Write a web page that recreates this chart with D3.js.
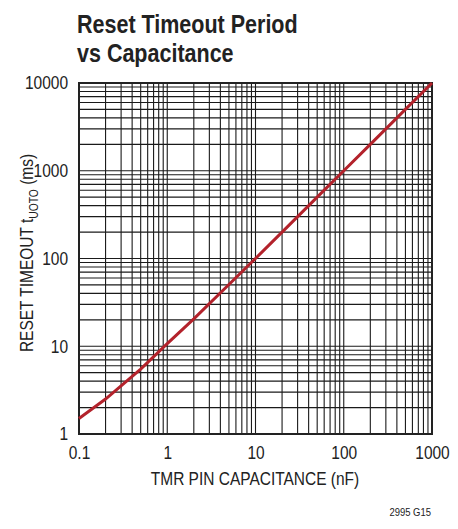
<!DOCTYPE html>
<html>
<head>
<meta charset="utf-8">
<script src="https://cdn.jsdelivr.net/npm/d3@7"></script>
<style>
  body { margin: 0; background: #fff; }
  svg { display: block; }
</style>
</head>
<body>
<div id="chart-div"></div>
<script>
// reset timeout vs TMR pin capacitance, log-log
var capacitance = [0.1, 0.2, 0.5, 1, 2, 5, 10, 20, 50, 100, 200, 500, 1000],
    timeout = [1.5, 2.5, 5.5, 10.7, 20.5, 50.5, 100, 200, 500, 1000, 2000, 5000, 10000];

var xTicks = [0.1, 1, 10, 100, 1000],
    xTickLabels = ["0.1", "1", "10", "100", "1000"],
    yTicks = [1, 10, 100, 1000, 10000],
    yTickLabels = ["1", "10", "100", "1000", "10000"];

var width = 458,
    height = 529,
    plotLeft = 79,
    plotRight = 432,
    plotTop = 83,
    plotBottom = 434;

var font = "'Liberation Sans', Arial, sans-serif",
    squeeze = 0.86;  // fake a condensed face

var svg = d3.select("#chart-div").append("svg")
    .attr("width", width)
    .attr("height", height);

// narrow each text node horizontally, keeping its anchor
function condense(selection) {
    selection.each(function() {
        var len = this.getComputedTextLength();
        d3.select(this)
            .attr("textLength", len * squeeze)
            .attr("lengthAdjust", "spacingAndGlyphs");
    });
}

var xScale = d3.scaleLog()
    .domain([0.1, 1000])
    .range([plotLeft, plotRight]);

var yScale = d3.scaleLog()
    .domain([1, 10000])
    .range([plotBottom, plotTop]);

// grid lines at 1..9 of each decade
var xGrid = [], yGrid = [];
for (var d = 0.1; d < 1000; d *= 10) {
    for (var k = 1; k < 10; k++) xGrid.push(d * k);
}
for (var d = 1; d < 10000; d *= 10) {
    for (var k = 1; k < 10; k++) yGrid.push(d * k);
}

svg.append("g")
    .selectAll("line")
    .data(xGrid)
    .enter()
    .append("line")
        .attr("x1", function(d) { return xScale(d); })
        .attr("x2", function(d) { return xScale(d); })
        .attr("y1", plotTop)
        .attr("y2", plotBottom)
        .style("stroke", "#1a1a1a")
        .style("stroke-width", 1.1);

svg.append("g")
    .selectAll("line")
    .data(yGrid)
    .enter()
    .append("line")
        .attr("x1", plotLeft)
        .attr("x2", plotRight)
        .attr("y1", function(d) { return yScale(d); })
        .attr("y2", function(d) { return yScale(d); })
        .style("stroke", "#1a1a1a")
        .style("stroke-width", 1.1);

// frame
svg.append("rect")
    .attr("x", plotLeft)
    .attr("y", plotTop)
    .attr("width", plotRight - plotLeft)
    .attr("height", plotBottom - plotTop)
    .style("fill", "none")
    .style("stroke", "#222")
    .style("stroke-width", 2);

// data line
var line = d3.line()
    .x(function(d, i) { return xScale(capacitance[i]); })
    .y(function(d) { return yScale(d); });

svg.append("path")
    .datum(timeout)
    .attr("d", line)
    .style("fill", "none")
    .style("stroke", "#b3222b")
    .style("stroke-width", 3);

// x axis labels
svg.append("g")
    .attr("transform", "translate(0," + plotBottom + ")")
    .call(d3.axisBottom(xScale).tickValues(xTicks).tickSize(0).tickPadding(12)
        .tickFormat(function(d, i) { return xTickLabels[i]; }))
    .call(function(g) { g.select(".domain").remove(); })
    .selectAll("text")
        .style("font-family", font)
        .style("font-size", "18px")
        .style("fill", "#222")
        .call(condense);

// y axis labels
svg.append("g")
    .attr("transform", "translate(" + (plotLeft - 11) + ",0)")
    .call(d3.axisLeft(yScale).tickValues(yTicks).tickSize(0).tickPadding(0)
        .tickFormat(function(d, i) { return yTickLabels[i]; }))
    .call(function(g) { g.select(".domain").remove(); })
    .selectAll("text")
        .style("font-family", font)
        .style("font-size", "18px")
        .style("fill", "#222")
        .call(condense);

// title
var title = svg.append("g")
    .style("font-family", font)
    .style("font-weight", "bold")
    .style("font-size", "25px")
    .style("fill", "#222");
title.append("text").attr("x", 77).attr("y", 33).text("Reset Timeout Period").call(condense);
title.append("text").attr("x", 77).attr("y", 62).text("vs Capacitance").call(condense);

// axis titles
svg.append("text")
    .attr("x", 255)
    .attr("y", 485)
    .attr("text-anchor", "middle")
    .style("font-family", font)
    .style("font-size", "18px")
    .style("fill", "#222")
    .text("TMR PIN CAPACITANCE (nF)")
    .call(condense);

var yTitle = svg.append("g")
    .attr("transform", "translate(33,253) rotate(-90)")
    .style("font-family", font)
    .style("font-size", "18px")
    .style("fill", "#222");
var yText = yTitle.append("text").attr("text-anchor", "middle");
yText.append("tspan").text("RESET TIMEOUT t");
yText.append("tspan").attr("dy", 5).style("font-size", "12px").text("UOTO");
yText.append("tspan").attr("dy", -5).text(" (ms)");
yText.call(condense);

// figure id
svg.append("text")
    .attr("x", 431)
    .attr("y", 516)
    .attr("text-anchor", "end")
    .style("font-family", font)
    .style("font-size", "11px")
    .style("fill", "#222")
    .text("2995 G15")
    .call(condense);
</script>
</body>
</html>
